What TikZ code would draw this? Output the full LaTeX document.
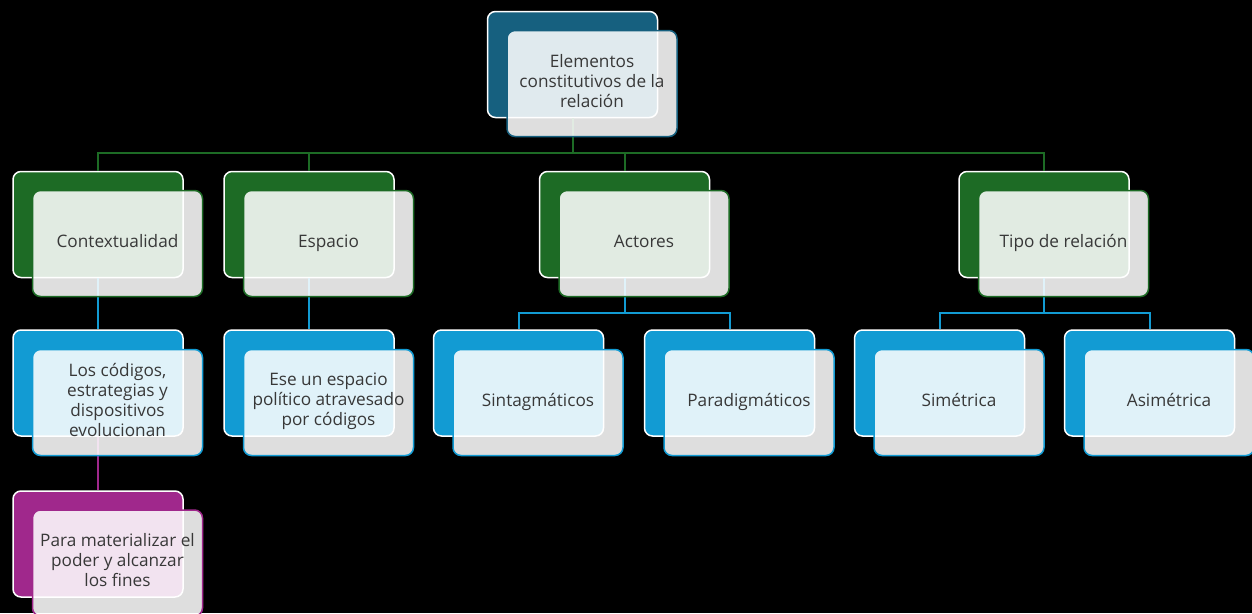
\documentclass[tikz,border=0pt]{standalone}
\usepackage{fontspec}
\setmainfont{Open Sans}
\usetikzlibrary{positioning}

\definecolor{rootc}{HTML}{16607F}
\definecolor{grn}{HTML}{1D6B25}
\definecolor{blu}{HTML}{129BD3}
\definecolor{pur}{HTML}{A0288C}
\definecolor{txt}{HTML}{383838}

\tikzset{
  back/.style={draw=white, line width=1.5pt, rounded corners=8pt, minimum width=170pt, minimum height=106pt, fill=#1},
  front/.style={draw=#1, line width=1.5pt, rounded corners=8pt, minimum width=170pt, minimum height=106pt, fill=white, fill opacity=0.87, text opacity=1, text=txt, align=center, inner sep=0pt, font=\fontsize{17.2}{20}\selectfont, execute at begin node=\strut, execute at end node=\strut},
  link/.style={draw=#1, line width=2pt}
}

\begin{document}
\begin{tikzpicture}[x=1pt, y=-1pt]

\fill[black] (0,0) rectangle (1252,613);
\useasboundingbox (0,0) rectangle (1252,613);

% back nodes
\node[back=rootc] (R) at (572.5, 64.5) {};

\node[back=grn] (C) at (98, 224.5) {};
\node[back=grn] (E) at (309, 224.5) {};
\node[back=grn] (A) at (624.5, 224.5) {};
\node[back=grn] (T) at (1044, 224.5) {};

\node[back=blu] (C1) at (98, 383) {};
\node[back=blu] (E1) at (309, 383) {};
\node[back=blu] (A1) at (518.5, 383) {};
\node[back=blu] (A2) at (729.5, 383) {};
\node[back=blu] (T1) at (939.5, 383) {};
\node[back=blu] (T2) at (1149.5, 383) {};

\node[back=pur] (C2) at (98, 544) {};

% connectors
\draw[link=grn] (R.south) -- ++(0,35) -| (C.north);
\draw[link=grn] (R.south) -- ++(0,35) -| (E.north);
\draw[link=grn] (R.south) -- ++(0,35) -| (A.north);
\draw[link=grn] (R.south) -- ++(0,35) -| (T.north);

\draw[link=blu] (C.south) -- (C1.north);
\draw[link=blu] (E.south) -- (E1.north);
\draw[link=blu] (A.south) -- ++(0,35) -| (A1.north);
\draw[link=blu] (A.south) -- ++(0,35) -| (A2.north);
\draw[link=blu] (T.south) -- ++(0,35) -| (T1.north);
\draw[link=blu] (T.south) -- ++(0,35) -| (T2.north);

\draw[link=pur] (C1.south) -- (C2.north);

% front nodes
\node[front=rootc] (R2) at (592, 83.5) {Elementos\\constitutivos de la\\relación};

\node[front=grn] (Cf) at (117.5, 243.5) {Contextualidad};
\node[front=grn] (Ef) at (328.5, 243.5) {Espacio};
\node[front=grn] (Af) at (644, 243.5) {Actores};
\node[front=grn] (Tf) at (1063.5, 243.5) {Tipo de relación};

\node[front=blu] (C1f) at (117.5, 402.5) {Los códigos,\\estrategias y\\dispositivos\\evolucionan};
\node[front=blu] (E1f) at (328.5, 402.5) {Ese un espacio\\político atravesado\\por códigos};
\node[front=blu] (A1f) at (538, 402.5) {Sintagmáticos};
\node[front=blu] (A2f) at (749, 402.5) {Paradigmáticos};
\node[front=blu] (T1f) at (959, 402.5) {Simétrica};
\node[front=blu] (T2f) at (1169, 402.5) {Asimétrica};

\node[front=pur] (C2f) at (117.5, 563) {Para materializar el\\poder y alcanzar\\los fines};

\end{tikzpicture}
\end{document}
